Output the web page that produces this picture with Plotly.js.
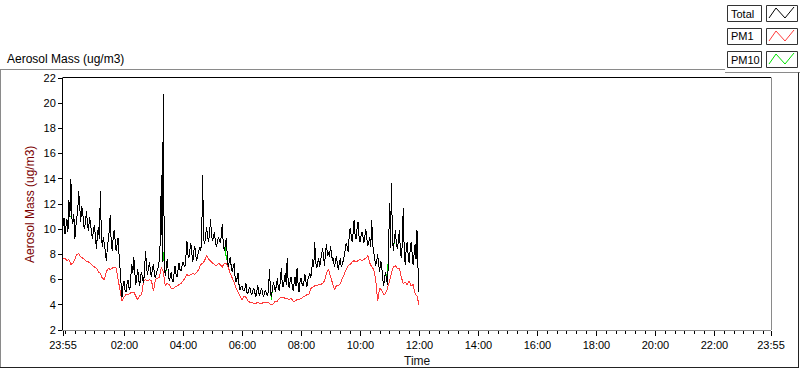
<!DOCTYPE html>
<html>
<head>
<meta charset="utf-8">
<script src="https://cdn.plot.ly/plotly-3.0.1.min.js"></script>
<style>
html,body{margin:0;padding:0;background:#fff;}
#chart{width:800px;height:369px;}
#chart .scatterlayer path.js-line{shape-rendering:crispEdges !important;}
</style>
</head>
<body>
<div id="chart"></div>
<script>
// minutes since 23:55; Total/PM10 every 2 minutes, PM1 every 4 minutes
const STEP_TOTAL = 2;
const STEP_PM1 = 4;

const total = [
  10.2, 10.9, 9.6, 10.4, 10.8, 9.8, 12.3, 11.0, 14.0, 10.9, 10.4, 11.2, 9.2, 10.2, 10.9, 11.5, 13.0, 11.6, 10.6, 11.8,
  11.4, 10.3, 10.0, 10.8, 11.4, 10.2, 9.9, 11.0, 10.5, 10.0, 9.2, 10.0, 10.3, 9.4, 8.4, 9.6, 10.2, 9.2, 13.0, 9.5,
  8.6, 9.4, 9.0, 8.3, 7.5, 8.6, 9.2, 9.8, 11.1, 9.0, 8.3, 9.3, 9.9, 9.1, 8.3, 8.8, 9.3, 8.0, 6.8, 5.4,
  4.6, 5.5, 5.9, 5.2, 5.0, 5.6, 6.0, 5.4, 5.2, 6.3, 7.2, 6.5, 7.8, 6.6, 5.6, 6.2, 6.8, 6.0, 5.5, 6.3,
  6.6, 6.0, 5.7, 6.9, 8.3, 6.9, 6.4, 7.0, 7.4, 6.6, 6.2, 6.9, 7.2, 6.4, 6.1, 6.5, 6.7, 7.0, 7.6, 9.2,
  14.3, 7.4, 20.7, 7.3, 6.3, 6.8, 7.6, 6.7, 5.9, 6.2, 6.6, 6.0, 5.8, 6.5, 7.1, 6.4, 6.2, 6.8, 7.3, 6.8,
  6.7, 7.1, 7.4, 7.2, 7.0, 7.8, 9.1, 8.0, 7.7, 8.3, 8.9, 8.1, 7.4, 8.2, 8.7, 7.9, 7.5, 7.9, 8.3, 8.6,
  8.3, 9.0, 14.3, 9.2, 8.8, 9.5, 10.2, 9.4, 9.0, 9.6, 10.8, 9.6, 9.1, 9.3, 9.8, 9.0, 8.6, 9.0, 9.4, 9.1,
  8.9, 9.5, 10.4, 8.8, 8.3, 8.7, 9.3, 8.0, 7.0, 7.4, 7.8, 7.1, 6.6, 7.0, 7.3, 6.2, 5.8, 6.1, 6.5, 5.6,
  5.2, 5.4, 5.5, 5.2, 5.1, 5.3, 5.7, 5.0, 4.9, 5.2, 5.4, 5.0, 4.8, 5.1, 5.3, 5.0, 4.6, 5.0, 5.6, 5.0,
  4.7, 5.1, 5.3, 4.9, 4.6, 5.0, 5.2, 4.8, 4.7, 5.2, 6.8, 5.0, 4.6, 5.3, 5.8, 5.4, 5.0, 5.6, 6.1, 5.3,
  5.1, 5.9, 6.9, 5.6, 5.4, 5.9, 6.5, 5.6, 7.7, 5.8, 5.3, 5.9, 6.2, 5.6, 5.1, 5.7, 6.2, 5.5, 6.9, 5.7,
  5.0, 5.8, 6.1, 5.7, 5.5, 5.8, 6.4, 5.9, 5.4, 6.0, 6.3, 6.5, 6.1, 7.1, 7.6, 7.0, 9.0, 7.4, 6.9, 7.3,
  7.7, 7.0, 7.4, 8.0, 8.5, 7.8, 7.1, 8.3, 8.8, 7.9, 8.2, 7.8, 8.7, 8.1, 7.5, 7.7, 7.0, 7.4, 7.9, 7.3,
  6.8, 7.3, 7.7, 7.0, 7.2, 7.5, 7.9, 8.4, 8.9, 8.6, 8.2, 9.4, 10.1, 9.6, 9.0, 9.7, 10.7, 9.6, 9.2, 10.0,
  10.6, 9.5, 9.0, 9.4, 9.8, 9.4, 8.9, 9.5, 10.0, 9.2, 8.7, 9.0, 9.4, 8.6, 10.7, 8.7, 8.1, 7.5, 7.1, 7.5,
  8.0, 7.2, 6.6, 7.5, 7.2, 6.2, 5.5, 6.1, 6.6, 6.0, 5.6, 7.6, 12.1, 8.5, 13.7, 9.3, 8.3, 9.2, 9.9, 8.9,
  8.4, 9.0, 9.9, 8.5, 7.7, 8.8, 11.7, 8.2, 7.2, 8.4, 9.0, 8.0, 7.3, 8.3, 9.0, 8.1, 7.2, 8.0, 8.8, 7.6,
  9.9, 7.0, 5.0
];

const pm10 = [
  10.2, 10.9, 9.6, 10.4, 10.8, 9.8, 12.3, 11.0, 11.0, 10.9, 10.4, 11.2, 9.2, 10.2, 10.9, 11.5, 13.0, 11.6, 10.6, 11.8,
  11.4, 10.3, 10.0, 10.8, 11.4, 10.2, 9.9, 11.0, 10.5, 10.0, 9.2, 10.0, 10.3, 9.4, 8.4, 9.6, 10.2, 9.2, 13.0, 9.5,
  8.6, 9.4, 9.0, 8.3, 7.5, 8.6, 9.2, 9.8, 11.1, 9.0, 8.3, 9.3, 9.9, 9.1, 8.3, 8.8, 9.3, 8.0, 6.8, 5.4,
  4.6, 5.5, 5.9, 5.2, 5.0, 5.6, 6.0, 5.4, 5.2, 6.3, 7.2, 6.5, 7.8, 6.6, 5.6, 6.2, 6.8, 6.0, 5.5, 6.3,
  6.6, 6.0, 5.7, 6.9, 8.3, 6.9, 6.4, 7.0, 7.4, 6.6, 6.2, 6.9, 7.2, 6.4, 6.1, 6.5, 6.7, 7.0, 7.6, 9.2,
  14.3, 7.4, 8.2, 7.3, 6.3, 6.8, 7.6, 6.7, 5.9, 6.2, 6.6, 6.0, 5.8, 6.5, 7.1, 6.4, 6.2, 6.8, 7.3, 6.8,
  6.7, 7.1, 7.4, 7.2, 7.0, 7.8, 9.1, 8.0, 7.7, 8.3, 8.9, 8.1, 7.4, 8.2, 8.7, 7.9, 7.5, 7.9, 8.3, 8.6,
  8.3, 9.0, 14.3, 9.2, 8.8, 9.5, 10.2, 9.4, 9.0, 9.6, 10.8, 9.6, 9.1, 9.3, 9.8, 9.0, 8.6, 9.0, 9.4, 9.1,
  8.9, 9.5, 10.4, 8.8, 8.3, 8.7, 7.6, 8.0, 7.0, 7.4, 7.8, 7.1, 6.6, 7.0, 7.3, 6.2, 5.8, 6.1, 6.5, 5.6,
  5.2, 5.4, 5.5, 5.2, 5.1, 5.3, 5.7, 5.0, 4.9, 5.2, 5.4, 5.0, 4.8, 5.1, 5.3, 5.0, 4.6, 5.0, 5.6, 5.0,
  4.7, 5.1, 5.3, 4.9, 4.6, 5.0, 5.2, 4.8, 4.7, 5.2, 6.8, 5.0, 4.4, 5.3, 5.8, 5.4, 5.0, 5.6, 6.1, 5.3,
  5.1, 5.9, 6.9, 5.6, 5.4, 5.9, 6.5, 5.6, 7.7, 5.8, 5.3, 5.9, 6.2, 5.6, 5.1, 5.7, 6.2, 5.5, 6.9, 5.7,
  5.0, 5.8, 6.1, 5.7, 5.5, 5.8, 6.4, 5.9, 5.4, 6.0, 6.3, 6.5, 6.1, 7.1, 7.6, 7.0, 9.0, 7.4, 6.9, 7.3,
  7.7, 7.0, 7.4, 8.0, 8.5, 7.8, 7.1, 8.3, 8.8, 7.9, 8.2, 7.8, 8.7, 8.1, 7.5, 7.7, 7.0, 7.4, 7.9, 7.3,
  6.8, 7.3, 7.7, 7.0, 7.2, 7.5, 7.9, 8.4, 8.9, 8.6, 8.2, 9.4, 10.1, 9.6, 9.0, 9.7, 10.7, 9.6, 9.2, 10.0,
  10.6, 9.5, 9.0, 9.4, 9.8, 9.4, 8.9, 9.5, 10.0, 9.2, 8.7, 9.0, 9.4, 8.6, 10.7, 8.7, 8.1, 7.5, 7.1, 7.5,
  8.0, 7.2, 6.6, 7.5, 7.2, 6.2, 5.5, 6.1, 6.6, 6.0, 6.8, 7.6, 12.1, 8.5, 13.7, 9.3, 8.3, 9.2, 9.9, 8.9,
  8.4, 9.0, 9.9, 8.5, 7.7, 8.8, 11.7, 8.2, 7.2, 8.4, 9.0, 8.0, 7.3, 8.3, 9.0, 8.1, 7.2, 8.0, 8.8, 7.6,
  9.9, 7.0, 5.0
];

const pm1 = [
  7.7, 7.7, 7.5, 7.6, 7.2, 7.3, 7.6, 8.0, 8.05, 7.8,
  7.7, 7.6, 7.4, 7.4, 7.3, 7.1, 7.0, 6.9, 6.6, 6.5,
  6.1, 6.0, 6.6, 6.9, 6.8, 6.9, 7.0, 6.9, 6.0, 5.0,
  4.3, 4.6, 4.8, 4.8, 4.9, 5.0, 5.0, 4.7, 4.4, 4.7,
  4.8, 5.9, 6.0, 5.9, 6.0, 5.9, 5.1, 6.0, 6.1, 6.2,
  7.0, 6.6, 5.5, 5.7, 5.6, 5.3, 5.3, 5.4, 5.5, 5.6,
  5.7, 5.9, 6.1, 6.4, 6.3, 6.4, 6.5, 6.4, 6.6, 6.8,
  7.2, 7.3, 7.5, 7.95, 7.6, 7.5, 7.3, 7.2, 7.1, 7.3,
  7.2, 7.0, 7.3, 7.3, 7.0, 6.5, 6.2, 5.8, 5.3, 5.0,
  4.6, 4.4, 4.7, 4.6, 4.3, 4.2, 4.2, 4.1, 4.1, 4.2,
  4.1, 4.1, 4.2, 4.2, 4.2, 4.1, 4.0, 4.1, 4.3, 4.3,
  4.5, 4.6, 4.6, 4.5, 4.5, 4.4, 4.5, 4.3, 4.3, 4.4,
  4.4, 4.5, 4.6, 4.7, 4.8, 4.8, 5.3, 5.4, 5.5, 5.5,
  5.6, 5.6, 5.7, 5.9, 6.5, 6.8, 6.2, 5.8, 5.2, 5.5,
  5.5, 5.7, 6.1, 6.4, 6.8, 7.1, 7.2, 7.4, 7.5, 7.4,
  7.5, 7.6, 7.5, 7.6, 7.7, 7.9, 7.3, 7.0, 6.8, 6.0,
  4.3, 5.3, 5.2, 4.8, 4.9, 5.3, 6.0, 6.5, 7.0, 7.1,
  6.9, 6.9, 6.2, 5.7, 5.8, 5.6, 5.9, 5.5, 5.6, 4.9,
  4.7, 4.0
];

const tickMinutes = [0, 125, 245, 365, 485, 605, 725, 845, 965, 1085, 1205, 1325, 1440];
const tickLabels = ["23:55", "02:00", "04:00", "06:00", "08:00", "10:00", "12:00",
                    "14:00", "16:00", "18:00", "20:00", "22:00", "23:55"];
const minorMinutes = [];
for (let m = 5; m <= 1440; m += 20) minorMinutes.push(m);

const legendNames = ["Total", "PM1", "PM10"];
const colors = { Total: "#000000", PM1: "#ff3b3b", PM10: "#00e000" };

const timesOf = (arr, step) => arr.map((_, i) => i * step);

// plot area in pixels
const L = 63, R = 771, T = 78, B = 330;
const W = R - L, H = B - T;
const px = x => (x - L) / W;
const py = y => (B - y) / H;

const traces = [
  { x: timesOf(pm10, STEP_TOTAL), y: pm10, mode: "lines", name: "PM10", line: { color: colors.PM10, width: 1 } },
  { x: timesOf(pm1, STEP_PM1), y: pm1, mode: "lines", name: "PM1", line: { color: colors.PM1, width: 1 } },
  { x: timesOf(total, STEP_TOTAL), y: total, mode: "lines", name: "Total", line: { color: colors.Total, width: 1 } }
];

const lineShape = (x0, y0, x1, y1, color) => ({
  type: "line", xref: "paper", yref: "paper", layer: "above",
  x0: px(x0), y0: py(y0), x1: px(x1), y1: py(y1),
  line: { color: color, width: 1 }
});

const shapes = [
  lineShape(L - 0.5, T - 0.5, R, T - 0.5, "#000"),
  lineShape(R + 0.5, T - 0.5, R + 0.5, B, "#8a8a8a"),
  lineShape(0, 69.5, 725, 69.5, "#8a8a8a"),
  lineShape(725, 72.5, 800, 72.5, "#8a8a8a"),
  lineShape(0.5, 69.5, 0.5, 368, "#8a8a8a"),
  lineShape(0, 367.5, 799, 367.5, "#222"),
  lineShape(798.5, 72.5, 798.5, 368, "#222")
];

const annotations = [
  { text: "Aerosol Mass (ug/m3)", xref: "paper", yref: "paper", x: px(5), y: py(59),
    xanchor: "left", yanchor: "middle", showarrow: false,
    font: { family: "Liberation Sans", size: 12, color: "#000" } },
  { text: "Aerosol Mass (ug/m3)", xref: "paper", yref: "paper", x: px(30), y: py(205),
    xanchor: "center", yanchor: "middle", showarrow: false, textangle: -90,
    font: { family: "Liberation Sans", size: 12, color: "#7a0000" } },
  { text: "Time", xref: "paper", yref: "paper", x: px(417), y: py(361),
    xanchor: "center", yanchor: "middle", showarrow: false,
    font: { family: "Liberation Sans", size: 12, color: "#111" } }
];

legendNames.forEach((name, k) => {
  const top = 5 + k * 23, bot = top + 16;
  shapes.push({ type: "rect", xref: "paper", yref: "paper", layer: "above",
    x0: px(727.5), x1: px(761.5), y0: py(top + 0.5), y1: py(bot + 0.5),
    line: { color: "#333", width: 1 }, fillcolor: "#fff" });
  shapes.push({ type: "rect", xref: "paper", yref: "paper", layer: "above",
    x0: px(766.5), x1: px(797.5), y0: py(top + 0.5), y1: py(bot + 0.5),
    line: { color: "#333", width: 1 }, fillcolor: "#fff" });
  const pts = [[769, bot - 3], [776, top + 3], [785, bot - 3], [794, top + 2]];
  const path = pts.map((p, i) => (i ? "L" : "M") + px(p[0]) + "," + py(p[1])).join(" ");
  shapes.push({ type: "path", xref: "paper", yref: "paper", layer: "above", path: path,
    line: { color: colors[name], width: 1 } });
  annotations.push({ text: name, xref: "paper", yref: "paper", x: px(729), y: py((top + bot) / 2 + 0.5),
    xanchor: "left", yanchor: "middle", showarrow: false,
    font: { family: "Liberation Sans", size: 11, color: "#000" } });
});

const layout = {
  width: 800, height: 369,
  margin: { l: L, r: 800 - R, t: T, b: 369 - B, pad: 0 },
  paper_bgcolor: "#fff", plot_bgcolor: "#fff",
  showlegend: false,
  font: { family: "Liberation Sans", size: 11, color: "#000" },
  xaxis: {
    range: [0, 1440], showgrid: false, zeroline: false,
    tickmode: "array", tickvals: tickMinutes, ticktext: tickLabels,
    ticks: "outside", ticklen: 5, tickcolor: "#000", tickwidth: 1,
    showline: true, linecolor: "#8a8a8a", linewidth: 1,
    tickfont: { family: "Liberation Sans", size: 11, color: "#000" },
    minor: { tickmode: "array", tickvals: minorMinutes, ticks: "outside", ticklen: 3, tickcolor: "#000", showgrid: false },
    fixedrange: true
  },
  yaxis: {
    range: [2, 22], showgrid: false, zeroline: false,
    tickmode: "linear", tick0: 2, dtick: 2,
    ticks: "outside", ticklen: 4, tickcolor: "#000", tickwidth: 1,
    showline: true, linecolor: "#000", linewidth: 1,
    tickfont: { family: "Liberation Sans", size: 11, color: "#000" },
    fixedrange: true
  },
  shapes: shapes,
  annotations: annotations
};

Plotly.newPlot("chart", traces, layout, { staticPlot: true, displayModeBar: false });
</script>
</body>
</html>
